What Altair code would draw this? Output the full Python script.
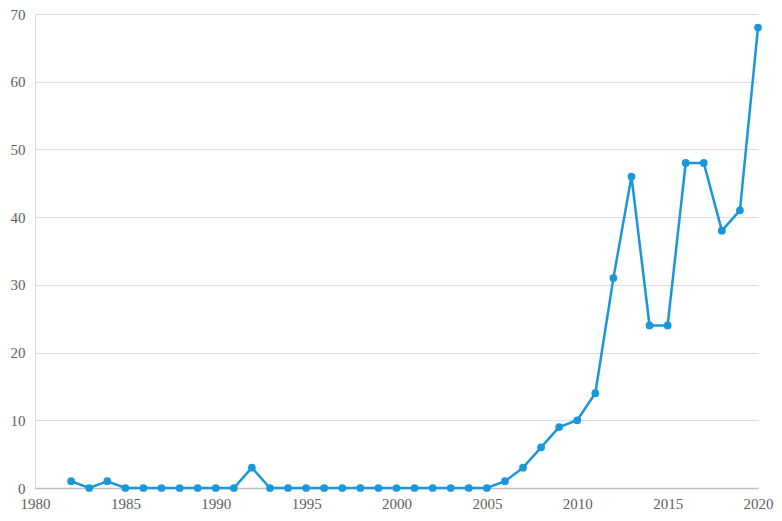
import altair as alt
import pandas as pd

years = list(range(1982, 2021))
counts = [1, 0, 1, 0, 0, 0, 0, 0, 0, 0, 3, 0, 0, 0, 0, 0, 0, 0, 0, 0,
          0, 0, 0, 0, 1, 3, 6, 9, 10, 14, 31, 46, 24, 24, 48, 48, 38, 41, 68]
x_ticks = [1980, 1985, 1990, 1995, 2000, 2005, 2010, 2015, 2020]
y_ticks = [0, 10, 20, 30, 40, 50, 60, 70]

df = pd.DataFrame({"year": years, "count": counts})
color = "#1a96da"

base = alt.Chart(df).encode(
    x=alt.X("year:Q", scale=alt.Scale(domain=[1980, 2020], nice=False, zero=False),
            axis=alt.Axis(values=x_ticks, format="d", title=None, grid=False, ticks=False,
                          labelPadding=8, domainColor="#c0c0c0", domainWidth=1.5,
                          labelFlush=False)),
    y=alt.Y("count:Q", scale=alt.Scale(domain=[0, 70], nice=False),
            axis=alt.Axis(values=y_ticks, title=None, grid=True, ticks=False,
                          labelPadding=10, gridColor="#dcdcdc", gridWidth=1.2,
                          domainColor="#d9d9d9")),
)

line = base.mark_line(color=color, strokeWidth=2.5)
pts = base.mark_point(filled=True, color=color, size=60, opacity=1)

chart = (line + pts).properties(
    width=723, height=474,
    autosize=alt.AutoSizeParams(type="none"),
    padding={"left": 27, "top": 6, "right": 16, "bottom": 25},
).configure_axis(
    labelFont="Liberation Serif", labelFontSize=15, labelColor="#5e5e5e"
).configure_view(stroke=None)

chart.save("out.html", embed_options={"renderer": "svg", "actions": False})
